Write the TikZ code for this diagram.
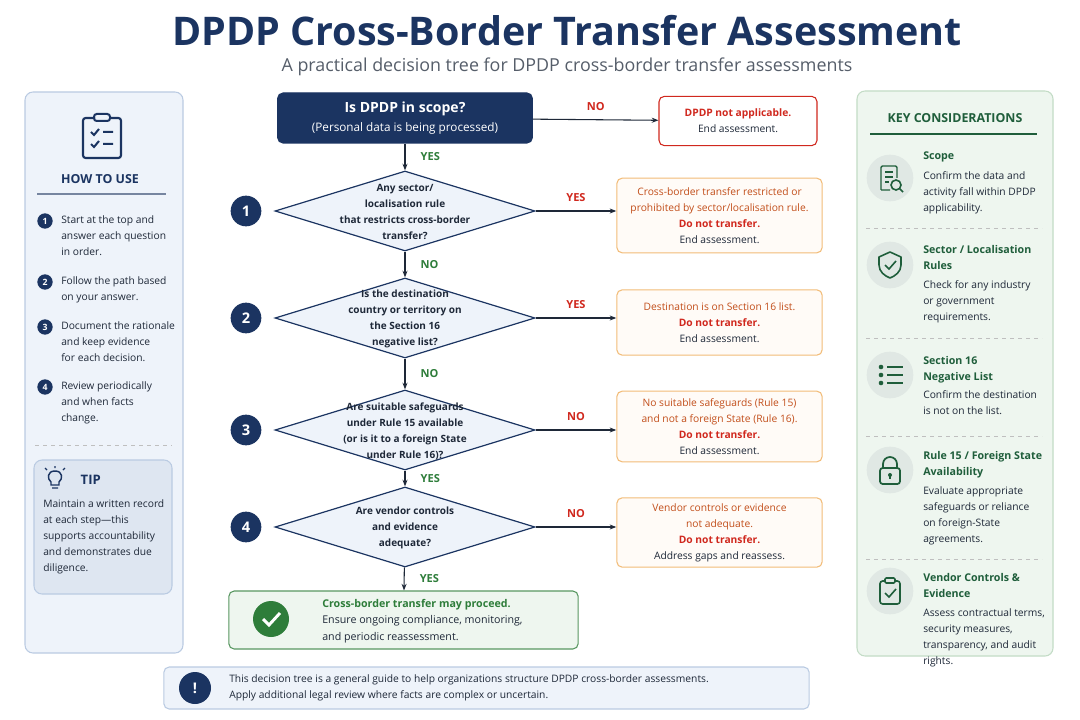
\documentclass[tikz,border=0pt]{standalone}
\usepackage{fontspec}
\setmainfont{Open Sans}
\usetikzlibrary{shapes.geometric,arrows.meta,positioning}
\definecolor{navy}{HTML}{1B3461}
\definecolor{ink}{HTML}{1E2838}
\definecolor{yesgreen}{HTML}{2E7D3A}
\definecolor{nored}{HTML}{D0281E}
\definecolor{brick}{HTML}{C24E1A}
\definecolor{orangeline}{HTML}{F2BC78}
\definecolor{kgreen}{HTML}{1F5E3B}
\definecolor{paleblue}{HTML}{EEF3FA}
\definecolor{tipblue}{HTML}{DEE6F1}
\definecolor{blueline}{HTML}{BACBE2}
\definecolor{palegreen}{HTML}{EEF6EF}
\definecolor{greenline}{HTML}{C3DCC6}
\tikzset{txt/.style={font=\fontsize{7.7}{12}\selectfont,text=ink}}
\tikzset{basic/.style={draw,rounded corners=4pt,line width=0.8pt,txt,align=center}}
\tikzset{outcome/.style={basic,draw=orangeline,fill=orange!3,minimum width=154pt}}
\tikzset{question/.style={diamond,draw=navy,line width=0.9pt,fill=paleblue,
                          minimum width=195pt,minimum height=60pt,inner sep=0pt}}
\tikzset{stepnum/.style={circle,fill=navy,text=white,font=\bfseries\fontsize{11}{11}\selectfont,
                      minimum size=23pt,inner sep=0pt}}
\tikzset{small/.style={circle,fill=navy,text=white,font=\bfseries\fontsize{6.5}{6.5}\selectfont,
                       minimum size=11.5pt,inner sep=0pt}}
\tikzset{flow/.style={-{Stealth[length=5pt]},line width=0.8pt,draw=ink}}
\tikzset{yes/.style={font=\bfseries\fontsize{8.3}{8}\selectfont,text=yesgreen}}
\tikzset{no/.style={font=\bfseries\fontsize{8.3}{8}\selectfont,text=nored}}
\tikzset{halo/.style={circle,fill=kgreen!14,minimum size=35pt,inner sep=0pt}}
\tikzset{ktitle/.style={font=\bfseries\fontsize{8}{12}\selectfont,text=kgreen,anchor=north west,align=left}}
\tikzset{kdesc/.style={txt,anchor=north west,align=left}}
\newcommand{\docicon}{\draw[kgreen,line width=1.1pt,rounded corners=1pt]
    (-9,12) -- (-9,-12) -- (7,-12) -- (7,0) (-9,12) -- (0,12);
  \draw[kgreen,line width=1.1pt] (-5,-6) -- (3,-6) (-5,-1) -- (3,-1) (-5,4) -- (-1,4);
  \draw[kgreen,line width=1.2pt] (6,7) circle (5) (9.5,10.5) -- (13,14);}
\newcommand{\shieldicon}{\draw[kgreen,line width=1.2pt,line join=round]
    (0,-13) -- (11,-8) -- (11,0) .. controls (11,7) and (5,11) .. (0,13)
    .. controls (-5,11) and (-11,7) .. (-11,0) -- (-11,-8) -- cycle;
  \draw[kgreen,line width=1.2pt] (-5,0) -- (-1,4) -- (6,-4);}
\newcommand{\listicon}{\foreach \yy in {-8,0,8}{
    \fill[kgreen] (-9,\yy) circle (2.3);
    \draw[kgreen,line width=1.4pt] (-3,\yy) -- (13,\yy);}}
\newcommand{\lockicon}{\draw[kgreen,line width=1.3pt,rounded corners=2pt] (-10,-2) rectangle (10,14);
  \draw[kgreen,line width=1.3pt] (-7,-2) -- (-7,-6) arc (180:360:7) -- (7,-2);
  \fill[kgreen] (0,5) circle (2); \draw[kgreen,line width=1.2pt] (0,5) -- (0,9);}
\newcommand{\clipicon}{\draw[kgreen,line width=1.2pt,rounded corners=2pt]
    (-5,-10) -- (-10,-10) -- (-10,13) -- (10,13) -- (10,-10) -- (5,-10);
  \draw[kgreen,line width=1.2pt,rounded corners=1pt] (-5,-8) rectangle (5,-13);
  \draw[kgreen,line width=1.2pt] (-5,2) -- (-1,6) -- (6,-2);}
\begin{document}
\begin{tikzpicture}[x=0.75pt,y=-0.75pt]
    \useasboundingbox[fill=white] (0,0) rectangle (1080,720);
    % Title
    \node[font=\bfseries\fontsize{29.6}{29}\selectfont,text=navy] (title) at (567,31) {DPDP Cross-Border Transfer Assessment};
    \node[font=\fontsize{13.4}{14}\selectfont,text=ink!75] (subtitle) at (567,67) {A practical decision tree for DPDP cross-border transfer assessments};
    % Left panel
    \draw[fill=paleblue,draw=blueline,line width=0.8pt,rounded corners=6pt] (25,92) rectangle (183,653);
    \begin{scope}[shift={(102,135)}]
        \draw[navy,line width=1.6pt,rounded corners=2pt] (-7,-17) -- (-19,-17) -- (-19,23) -- (19,23) -- (19,-17) -- (7,-17);
        \draw[navy,line width=1.5pt,rounded corners=2pt] (-8,-14) rectangle (8,-21);
        \draw[navy,line width=1.5pt] (-11,-3) -- (-8,0) -- (-3,-6) (1,-3) -- (11,-3)
                                     (-11,9) -- (-8,12) -- (-3,6) (1,9) -- (11,9);
    \end{scope}
    \node[font=\bfseries\fontsize{9.3}{9}\selectfont,text=navy] (howto) at (100,179) {HOW TO USE};
    \draw[navy!60,line width=0.8pt] (37,194) -- (166,194);
    \foreach \n/\yy/\t in {1/221/{Start at the top and\\answer each question\\in order.},
                          2/282/{Follow the path based\\on your answer.},
                          3/327/{Document the rationale\\and keep evidence\\for each decision.},
                          4/387/{Review periodically\\and when facts\\change.}}{%
        \node[small] (h\n) at (45,\yy) {\n};
        \node[txt,anchor=north west,align=left,inner sep=0pt] (ht\n) at (61,\yy-6) {\t};
    }
    \draw[gray!50,dashed,line width=0.5pt] (35,445) -- (172,445);
    \draw[fill=tipblue,draw=blueline,line width=0.8pt,rounded corners=6pt] (34,460) rectangle (172,594);
    \begin{scope}[shift={(55,478)}]
        \draw[navy,line width=1.1pt] (-4,7) -- (-4,4) .. controls (-8,1) and (-8,-7) .. (0,-7)
              .. controls (8,-7) and (8,1) .. (4,4) -- (4,7) -- cycle (-3,10) -- (3,10);
        \draw[navy,line width=0.9pt] (0,-10) -- (0,-12) (-8,-8) -- (-10,-10) (8,-8) -- (10,-10);
    \end{scope}
    \node[font=\bfseries\fontsize{9.8}{9.5}\selectfont,text=navy,anchor=west] (tip) at (76,480) {TIP};
    \node[txt,anchor=north west,align=left,inner sep=0pt] (tiptext) at (43,499)
        {Maintain a written record\\at each step---this\\supports accountability\\and demonstrates due\\diligence.};
    % Flow
    \node[basic,draw=navy,fill=navy,text=white,minimum width=191pt,minimum height=37.5pt,
          font=\fontsize{8.8}{14}\selectfont] (scope) at (405,118)
        {{\bfseries\fontsize{10.5}{14}\selectfont Is DPDP in scope?}\\(Personal data is being processed)};
    \node[basic,draw=nored,fill=white,minimum width=118.5pt,minimum height=37pt] (napp) at (738,121)
        {\textcolor{nored}{\bfseries DPDP not applicable.}\\End assessment.};
    \draw[flow] (scope) -- node[no,above=3pt] {NO} (napp);
    % Questions
    \foreach \q/\yy/\t in {1/211/{Any sector/\\localisation rule\\that restricts cross-border\\transfer?},
                          2/318/{Is the destination\\country or territory on\\the Section 16\\negative list?},
                          3/430/{Are suitable safeguards\\under Rule 15 available\\(or is it to a foreign State\\under Rule 16)?},
                          4/527/{Are vendor controls\\and evidence\\adequate?}}{%
        \node[question] (q\q) at (405,\yy) {};
        \node[txt,align=center,font=\bfseries\fontsize{7.5}{12}\selectfont] (qt\q) at (405,\yy+1) {\t};
        \node[stepnum] (s\q) at (246,\yy) {\q};
    }
    \node[outcome,minimum height=56pt] (o1) at (719.5,215.5)
        {\textcolor{brick}{Cross-border transfer restricted or}\\\textcolor{brick}{prohibited by sector/localisation rule.}\\\textcolor{nored}{\bfseries Do not transfer.}\\End assessment.};
    \node[outcome,minimum height=49pt] (o2) at (719.5,322.5)
        {\textcolor{brick}{Destination is on Section 16 list.}\\\textcolor{nored}{\bfseries Do not transfer.}\\End assessment.};
    \node[outcome,minimum height=53pt] (o3) at (719.5,426.5)
        {\textcolor{brick}{No suitable safeguards (Rule 15)}\\\textcolor{brick}{and not a foreign State (Rule 16).}\\\textcolor{nored}{\bfseries Do not transfer.}\\End assessment.};
    \node[outcome,minimum height=52pt] (o4) at (719.5,532.5)
        {\textcolor{brick}{Vendor controls or evidence}\\\textcolor{brick}{not adequate.}\\\textcolor{nored}{\bfseries Do not transfer.}\\Address gaps and reassess.};
    \node[basic,draw=yesgreen!80,fill=palegreen,minimum width=262pt,minimum height=43.5pt] (go) at (403.5,620) {};
    \node[circle,fill=yesgreen,minimum size=27pt,inner sep=0pt] (gocheck) at (271,619) {};
    \draw[white,line width=2.2pt] (263,619) -- (269,625) -- (280,613);
    \node[txt,anchor=west,align=left,inner sep=0pt,font=\fontsize{8}{12.5}\selectfont] (gotext) at (322,621)
        {\textcolor{yesgreen}{\bfseries Cross-border transfer may proceed.}\\Ensure ongoing compliance, monitoring,\\and periodic reassessment.};
    % Connectors
    \draw[flow] (scope) -- node[yes,right=8pt] {YES} (q1);
    \draw[flow] (q1) -- node[yes,right=8pt] {NO} (q2);
    \draw[flow] (q2) -- node[yes,right=8pt] {NO} (q3);
    \draw[flow] (q3) -- node[yes,right=8pt] {YES} (q4);
    \draw[flow] (q4) -- node[yes,right=8pt] {YES} (go);
    \draw[flow] (q1.east) -- node[no,above=3pt] {YES} (q1.east -| o1.west);
    \draw[flow] (q2.east) -- node[no,above=3pt] {YES} (q2.east -| o2.west);
    \draw[flow] (q3.east) -- node[no,above=3pt] {NO} (q3.east -| o3.west);
    \draw[flow] (q4.east) -- node[no,above=3pt] {NO} (q4.east -| o4.west);
    % Note
    \node[basic,draw=blueline,fill=paleblue,minimum width=484pt,minimum height=31.5pt] (note) at (486.5,688) {};
    \node[stepnum,minimum size=24pt] (bang) at (195,688) {!};
    \node[txt,anchor=west,align=left,inner sep=0pt] (notetext) at (229,688)
        {This decision tree is a general guide to help organizations structure DPDP cross-border assessments.\\Apply additional legal review where facts are complex or uncertain.};
    % Right panel
    \draw[fill=palegreen,draw=greenline,line width=0.8pt,rounded corners=6pt] (857,91) rectangle (1053,656);
    \node[font=\bfseries\fontsize{9.3}{9}\selectfont,text=kgreen] (keys) at (955,118) {KEY CONSIDERATIONS};
    \draw[kgreen,line width=0.8pt] (870,134) -- (1037,134);
    \foreach \yy in {228,338,436,559}{\draw[gray!50,dashed,line width=0.5pt] (866,\yy) -- (1042,\yy);}
    \foreach \k/\yy/\icon in {1/178/\docicon,2/265/\shieldicon,3/375/\listicon,4/470/\lockicon,5/591/\clipicon}{%
        \node[halo] (k\k) at (890,\yy) {};
        \begin{scope}[shift={(890,\yy)}] \icon \end{scope}
    }
    \node[ktitle,inner sep=0pt] (kt1) at (923,152) {Scope};
    \node[kdesc,inner sep=0pt] (kd1) at (923,171) {Confirm the data and\\activity fall within DPDP\\applicability.};
    \node[ktitle,inner sep=0pt] (kt2) at (923,245) {Sector / Localisation\\Rules};
    \node[kdesc,inner sep=0pt] (kd2) at (923,280) {Check for any industry\\or government\\requirements.};
    \node[ktitle,inner sep=0pt] (kt3) at (923,356) {Section 16\\Negative List};
    \node[kdesc,inner sep=0pt] (kd3) at (923,390) {Confirm the destination\\is not on the list.};
    \node[ktitle,inner sep=0pt] (kt4) at (923,451) {Rule 15 / Foreign State\\Availability};
    \node[kdesc,inner sep=0pt] (kd4) at (923,486) {Evaluate appropriate\\safeguards or reliance\\on foreign-State\\agreements.};
    \node[ktitle,inner sep=0pt] (kt5) at (923,573) {Vendor Controls \&\\Evidence};
    \node[kdesc,inner sep=0pt] (kd5) at (923,608) {Assess contractual terms,\\security measures,\\transparency, and audit\\rights.};
\end{tikzpicture}
\end{document}
